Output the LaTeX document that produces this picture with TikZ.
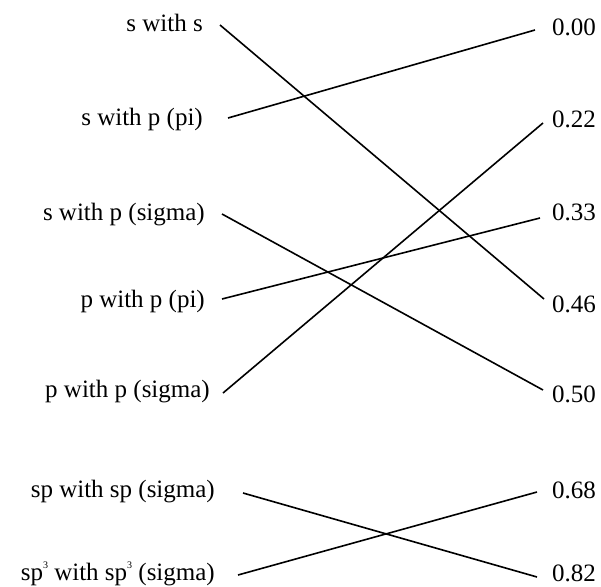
\documentclass[tikz,border=0pt]{standalone}
\usepackage{fontspec}
\setmainfont{Liberation Serif}
\usepackage{tikz}

\newcommand{\supthree}{\raisebox{0.45em}{\fontsize{10}{10}\selectfont 3}}

\begin{document}
\begin{tikzpicture}[x=1pt,y=-1pt,
	lbl/.style={inner sep=0pt, text height=16pt, text depth=2pt, font=\fontsize{25}{29}\selectfont},
	link/.style={line width=1.6pt}]
	\useasboundingbox (0,0) rectangle (601,586);
	
	% left column: kinds of overlap
	\node[lbl, anchor=east] (sws) at (203,25) {s with s};
	\node[lbl, anchor=east] (swppi) at (203,118) {s with p (pi)};
	\node[lbl, anchor=east] (swpsig) at (205,213) {s with p (sigma)};
	\node[lbl, anchor=east] (pwppi) at (205,300) {p with p (pi)};
	\node[lbl, anchor=east] (pwpsig) at (210,390) {p with p (sigma)};
	\node[lbl, anchor=east] (spsp) at (215,490) {sp with sp (sigma)};
	\node[lbl, anchor=east] (sp3sp3) at (215,573) {sp\supthree{} with sp\supthree{} (sigma)};
	
	% right column: values
	\node[lbl, anchor=west] (v00) at (552,29) {0.00};
	\node[lbl, anchor=west] (v22) at (552,120) {0.22};
	\node[lbl, anchor=west] (v33) at (552,213) {0.33};
	\node[lbl, anchor=west] (v46) at (552,305) {0.46};
	\node[lbl, anchor=west] (v50) at (552,395) {0.50};
	\node[lbl, anchor=west] (v68) at (552,491) {0.68};
	\node[lbl, anchor=west] (v82) at (552,574) {0.82};
	
	\draw[link] ([shift={(17,0)}]sws.east) -- ([shift={(-8,-6)}]v46.west);
	\draw[link] ([shift={(25,0)}]swppi.east) -- ([shift={(-17,1)}]v00.west);
	\draw[link] ([shift={(17,1)}]swpsig.east) -- ([shift={(-9,-5)}]v50.west);
	\draw[link] ([shift={(17,-1)}]pwppi.east) -- ([shift={(-12,5)}]v33.west);
	\draw[link] ([shift={(13,3)}]pwpsig.east) -- ([shift={(-9,3)}]v22.west);
	\draw[link] ([shift={(28,3)}]spsp.east) -- ([shift={(-15,3)}]v82.west);
	\draw[link] ([shift={(23,2)}]sp3sp3.east) -- ([shift={(-15,1)}]v68.west);
	
\end{tikzpicture}
\end{document}
